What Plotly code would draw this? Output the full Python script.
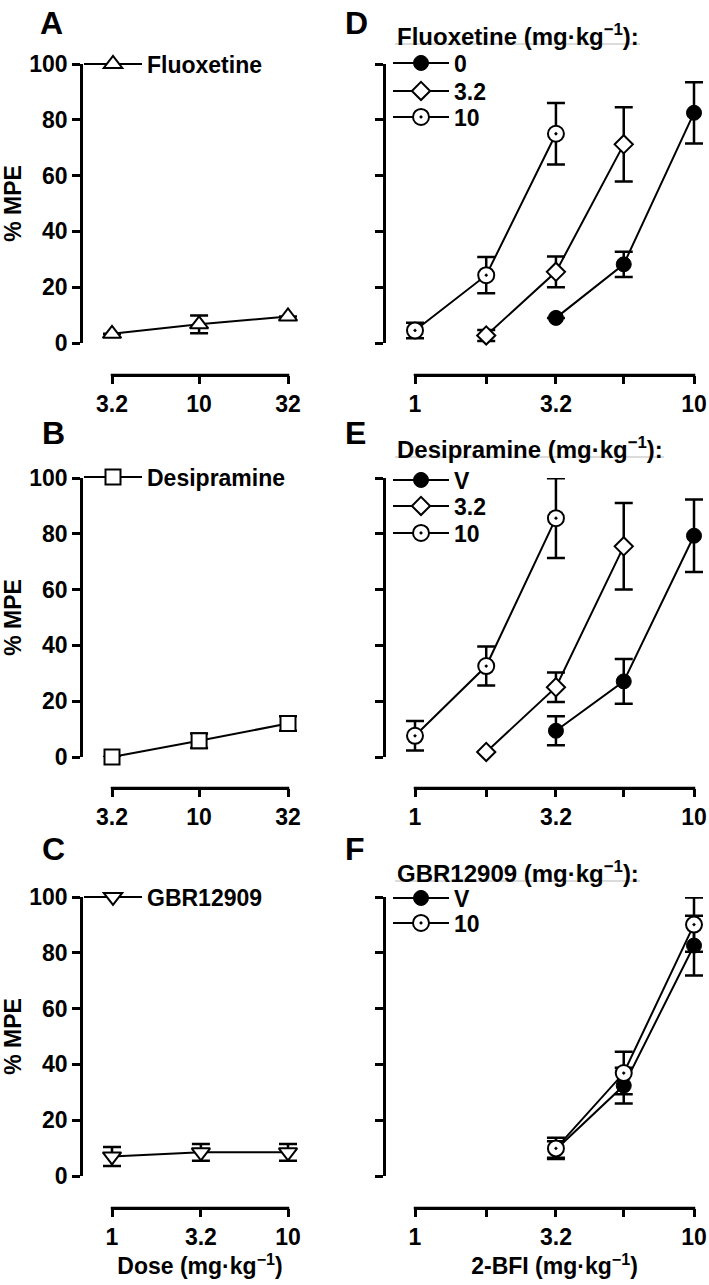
import math
import plotly.graph_objects as go

# ---------------- data ----------------
# Panels A-C: test drug alone (% MPE, mean and SEM)
fluox_dose = [3.2, 10, 32]
fluox_mpe = [3.3, 6.7, 9.5]
fluox_sem = [0, 3.2, 0]

desip_dose = [3.2, 10, 32]
desip_mpe = [0.0, 5.8, 12.0]
desip_sem = [0, 2.6, 2.6]

gbr_dose = [1, 3.2, 10]
gbr_mpe = [7.0, 8.5, 8.5]
gbr_sem = [3.4, 3.0, 3.0]

# Panels D-F: 2-BFI dose-effect curves with pretreatments
bfi_major = [1, 3.2, 10]
bfi_minor = [1.8, 5.6]

d_veh_dose = [3.2, 5.6, 10]
d_veh_mpe = [9.0, 28.2, 82.5]
d_veh_sem = [0, 4.5, 11.0]
d_32_dose = [1.8, 3.2, 5.6]
d_32_mpe = [2.7, 25.5, 71.2]
d_32_sem = [2.0, 5.5, 13.3]
d_10_dose = [1, 1.8, 3.2]
d_10_mpe = [4.5, 24.3, 75.0]
d_10_sem = [2.8, 6.5, 11.0]

e_veh_dose = [3.2, 5.6, 10]
e_veh_mpe = [9.4, 27.1, 79.3]
e_veh_sem = [5.2, 8.0, 13.0]
e_32_dose = [1.8, 3.2, 5.6]
e_32_mpe = [1.8, 25.0, 75.5]
e_32_sem = [0, 5.3, 15.5]
e_10_dose = [1, 1.8, 3.2]
e_10_mpe = [7.6, 32.6, 85.6]
e_10_sem = [5.3, 7.0, 14.3]

f_veh_dose = [3.2, 5.6, 10]
f_veh_mpe = [9.5, 32.4, 82.6]
f_veh_sem = [3.0, 6.4, 10.7]
f_10_dose = [3.2, 5.6, 10]
f_10_mpe = [9.9, 36.9, 90.1]
f_10_sem = [3.8, 7.6, 9.7]

y_ticks = [0, 20, 40, 60, 80, 100]

legend_titles = ["Fluoxetine (mg·kg<sup>−1</sup>):",
                 "Desipramine (mg·kg<sup>−1</sup>):",
                 "GBR12909 (mg·kg<sup>−1</sup>):"]

# ---------------- layout helpers ----------------
W, H = 709, 1285
FONT = "Liberation Sans, Arial, sans-serif"
LW = 2.5  # axis line width


def fx(p):
    return min(1.0, max(0.0, p / W))


def fy(p):
    return min(1.0, max(0.0, 1 - p / H))


MS = {
    "filled": dict(symbol="circle", color="black", size=15, line=dict(color="black", width=1)),
    "diamond": dict(symbol="diamond", color="white", size=14, line=dict(color="black", width=2)),
    "dotcircle": dict(symbol="circle-dot", color="white", size=16, line=dict(color="black", width=2)),
    "tri_up": dict(symbol="triangle-up", color="white", size=16, line=dict(color="black", width=2)),
    "square": dict(symbol="square", color="white", size=15, line=dict(color="black", width=2)),
    "tri_down": dict(symbol="triangle-down", color="white", size=16, line=dict(color="black", width=2)),
}

fig = go.Figure()


def add(name, x, y, e, style, n, legend):
    fig.add_trace(go.Scatter(
        x=x, y=y, name=name, mode="lines+markers",
        line=dict(color="black", width=2),
        marker=MS[style],
        error_y=dict(type="data", array=e, visible=True, color="black", thickness=2.5, width=9),
        cliponaxis=False,
        xaxis="x" if n == 1 else f"x{n}",
        yaxis="y" if n == 1 else f"y{n}",
        legend=legend,
    ))


# one legend per entry so that each entry can be placed exactly
add("Fluoxetine", fluox_dose, fluox_mpe, fluox_sem, "tri_up", 1, "legend")
add("Desipramine", desip_dose, desip_mpe, desip_sem, "square", 2, "legend2")
add("GBR12909", gbr_dose, gbr_mpe, gbr_sem, "tri_down", 3, "legend3")

add("0", d_veh_dose, d_veh_mpe, d_veh_sem, "filled", 4, "legend4")
add("3.2", d_32_dose, d_32_mpe, d_32_sem, "diamond", 4, "legend5")
add("10", d_10_dose, d_10_mpe, d_10_sem, "dotcircle", 4, "legend6")

add("V", e_veh_dose, e_veh_mpe, e_veh_sem, "filled", 5, "legend7")
add("3.2", e_32_dose, e_32_mpe, e_32_sem, "diamond", 5, "legend8")
add("10", e_10_dose, e_10_mpe, e_10_sem, "dotcircle", 5, "legend9")

add("V", f_veh_dose, f_veh_mpe, f_veh_sem, "filled", 6, "legend10")
add("10", f_10_dose, f_10_mpe, f_10_sem, "dotcircle", 6, "legend11")

# geometry (pixels)
cols = [dict(yline=81, x0=112, x1=288), dict(yline=384, x0=415, x1=694)]
rows = [dict(top=64, bot=343, xline=375), dict(top=478, bot=757, xline=788),
        dict(top=897, bot=1176, xline=1208)]
PAD = 14  # px of extra plot area left/right so edge markers & caps are not clipped

tickfont = dict(family=FONT, size=23, color="black", weight="bold")
titlefont = dict(family=FONT, size=23, color="black", weight="bold")

left_x = [fluox_dose, desip_dose, gbr_dose]

layout = {}
shapes = []
for n in range(1, 7):
    c = 0 if n <= 3 else 1
    r = (n - 1) % 3
    col, row = cols[c], rows[r]
    xk = "xaxis" if n == 1 else f"xaxis{n}"
    yk = "yaxis" if n == 1 else f"yaxis{n}"
    if c == 0:
        major, minor = left_x[r], []
    else:
        major, minor = bfi_major, bfi_minor
    lo, hi = math.log10(major[0]), math.log10(major[-1])
    per_px = (hi - lo) / (col["x1"] - col["x0"])
    # data axis: a little wider than the drawn baseline, carries ticks and labels
    xa = dict(
        type="log", range=[lo - PAD * per_px, hi + PAD * per_px],
        domain=[fx(col["x0"] - PAD), fx(col["x1"] + PAD)],
        anchor="free", position=fy(row["xline"]), automargin=False,
        showline=False,
        ticks="outside", ticklen=8, tickwidth=2.5, tickcolor="black",
        tickmode="array", tickvals=major, ticktext=[str(v) for v in major], tickfont=tickfont,
        showgrid=False, zeroline=False, fixedrange=True,
    )
    if minor:
        xa["minor"] = dict(tickmode="array", tickvals=minor, ticks="outside", ticklen=8,
                           tickwidth=2.5, tickcolor="black", showgrid=False)
    if r == 2:
        xa["title"] = dict(
            text=("Dose" if c == 0 else "2-BFI") + " (mg·kg<sup>−1</sup>)",
            font=titlefont, standoff=6)
    ya = dict(
        range=[0, 100], domain=[fy(row["bot"]), fy(row["top"])],
        anchor="free", position=fx(col["yline"]), automargin=False,
        showline=True, linecolor="black", linewidth=LW,
        ticks="outside", ticklen=8, tickwidth=2.5, tickcolor="black",
        tickvals=y_ticks, tickfont=tickfont, showticklabels=(c == 0),
        showgrid=False, zeroline=False, fixedrange=True,
    )
    if c == 0:
        ya["title"] = dict(text="% MPE", font=titlefont, standoff=4)
    layout[xk] = xa
    layout[yk] = ya

    # baseline axis spanning exactly first to last tick; an empty trace registers the subplot
    m = n + 6
    layout[f"xaxis{m}"] = dict(
        type="log", range=[lo, hi], domain=[fx(col["x0"]), fx(col["x1"])],
        anchor=f"y{m}", side="bottom", automargin=False,
        showline=True, linecolor="black", linewidth=LW,
        ticks="", showticklabels=False, showgrid=False, zeroline=False, fixedrange=True,
    )
    layout[f"yaxis{m}"] = dict(
        range=[0, 1], domain=[fy(row["xline"] - LW / 2), fy(row["xline"] - LW / 2 - 2)],
        anchor=f"x{m}",
        showline=False, showticklabels=False, ticks="", showgrid=False, zeroline=False,
        automargin=False, fixedrange=True,
    )
    fig.add_trace(go.Scatter(x=[], y=[], xaxis=f"x{m}", yaxis=f"y{m}",
                             showlegend=False, hoverinfo="skip"))
    # same baseline as a shape, exactly coincident with the axis line above
    shapes.append(dict(type="line", xref="paper", yref="paper",
                       x0=fx(col["x0"] - LW / 2), x1=fx(col["x1"] + LW / 2),
                       y0=fy(row["xline"]), y1=fy(row["xline"]),
                       line=dict(color="black", width=LW)))

legfont = dict(family=FONT, size=23, color="black", weight="bold")
base = dict(font=legfont, bgcolor="rgba(0,0,0,0)", xanchor="left", yanchor="middle")
# left panels: symbol centre ~112 px, text ~148 px
layout["legend"] = dict(base, itemwidth=58, x=fx(79), y=fy(64))
layout["legend2"] = dict(base, itemwidth=58, x=fx(79), y=fy(477))
layout["legend3"] = dict(base, itemwidth=58, x=fx(79), y=fy(897))
# right panels: symbol centre ~420 px, text ~455 px
for key, yy in [("legend4", 63), ("legend5", 91), ("legend6", 117),
                ("legend7", 480), ("legend8", 506), ("legend9", 533),
                ("legend10", 898), ("legend11", 923)]:
    layout[key] = dict(base, itemwidth=56, x=fx(388), y=fy(yy))

# light underline beneath the legend headings
for yy, x1 in zip([35, 448, 872], [640, 664, 640]):
    shapes.append(dict(type="line", xref="paper", yref="paper",
                       x0=fx(395), x1=fx(x1), y0=fy(yy + 9), y1=fy(yy + 9),
                       line=dict(color="#b8b8b8", width=1)))

fig.update_layout(
    template="none",
    width=W, height=H,
    margin=dict(l=0, r=0, t=0, b=0, pad=0, autoexpand=False),
    paper_bgcolor="white", plot_bgcolor="rgba(0,0,0,0)",
    font=dict(family=FONT, color="black"),
    showlegend=True,
    shapes=shapes,
    **layout,
)

# legend headings
for text, yy in zip(legend_titles, [35, 448, 872]):
    fig.add_annotation(text=text, x=fx(395), y=fy(yy), xref="paper", yref="paper",
                       xanchor="left", yanchor="middle", showarrow=False,
                       font=dict(family=FONT, size=24, color="black", weight="bold"))

# panel letters
for letter, px, py in [("A", 38, 23), ("B", 40, 433), ("C", 40, 849),
                       ("D", 343, 23), ("E", 343, 433), ("F", 343, 849)]:
    fig.add_annotation(text=letter, x=fx(px), y=fy(py), xref="paper", yref="paper",
                       xanchor="left", yanchor="middle", showarrow=False,
                       font=dict(family=FONT, size=32, color="black", weight="bold"))

fig.write_html("out.html", config={"displayModeBar": False},
               post_script="document.body.style.margin='0px';")
